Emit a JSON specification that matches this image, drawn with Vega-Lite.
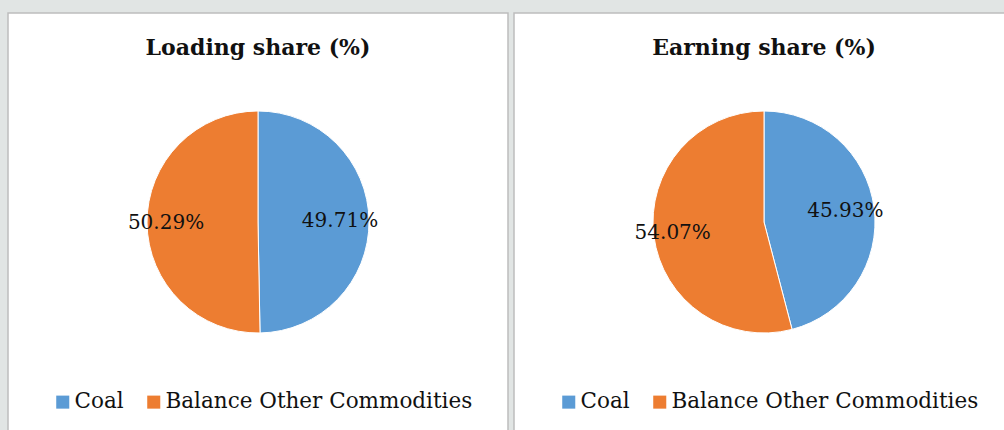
{
  "$schema": "https://vega.github.io/schema/vega-lite/v6.json",
  "background": "#e1e5e4",
  "padding": {"left": 7, "top": 12, "right": 0, "bottom": 0},
  "config": {
    "view": {"stroke": "#bdbdbd", "strokeWidth": 1.5, "fill": "white"},
    "font": "DejaVu Serif",
    "title": {"font": "DejaVu Serif", "fontSize": 22, "fontWeight": "bold", "color": "#111111", "anchor": "middle", "offset": -47, "baseline": "alphabetic"},
    "legend": {"labelFont": "DejaVu Serif", "labelFontSize": 21.5, "labelColor": "#111111", "labelLimit": 500, "symbolType": "square", "symbolSize": 170, "symbolStrokeWidth": 0, "labelOffset": 1, "columnPadding": 19, "orient": "none", "legendX": 44, "legendY": 378, "direction": "horizontal", "title": null}
  },
  "datasets": {
    "loading": [
      {"commodity": "Coal", "share": 49.71, "label": "49.71%", "ord": 1},
      {"commodity": "Balance Other Commodities", "share": 50.29, "label": "50.29%", "ord": 2}
    ],
    "earning": [
      {"commodity": "Coal", "share": 45.93, "label": "45.93%", "ord": 1},
      {"commodity": "Balance Other Commodities", "share": 54.07, "label": "54.07%", "ord": 2}
    ]
  },
  "spacing": 4,
  "resolve": {"legend": {"color": "independent"}},
  "hconcat": [
    {
      "title": "Loading share (%)",
      "width": 500,
      "height": 418,
      "view": {"stroke": "#bdbdbd", "strokeWidth": 1.5, "fill": "white"},
      "data": {"name": "loading"},
      "encoding": {
        "theta": {"field": "share", "type": "quantitative", "stack": true},
        "order": {"field": "ord", "type": "ordinal"},
        "color": {"field": "commodity", "type": "nominal", "scale": {"domain": ["Coal", "Balance Other Commodities"], "range": ["#5b9bd5", "#ed7d31"]}}
      },
      "layer": [
        {"mark": {"type": "arc", "outerRadius": 111, "stroke": "white", "strokeWidth": 1}},
        {"mark": {"type": "text", "radius": 87, "dx": -5, "fontSize": 20, "font": "DejaVu Serif"}, "encoding": {"text": {"field": "label"}, "color": {"value": "#111111"}}}
      ]
    },
    {
      "title": "Earning share (%)",
      "width": 500,
      "height": 418,
      "view": {"stroke": "#bdbdbd", "strokeWidth": 1.5, "fill": "white"},
      "data": {"name": "earning"},
      "encoding": {
        "theta": {"field": "share", "type": "quantitative", "stack": true},
        "order": {"field": "ord", "type": "ordinal"},
        "color": {"field": "commodity", "type": "nominal", "scale": {"domain": ["Coal", "Balance Other Commodities"], "range": ["#5b9bd5", "#ed7d31"]}}
      },
      "layer": [
        {"mark": {"type": "arc", "outerRadius": 111, "stroke": "white", "strokeWidth": 1}},
        {"mark": {"type": "text", "radius": 87, "dx": -5, "fontSize": 20, "font": "DejaVu Serif"}, "encoding": {"text": {"field": "label"}, "color": {"value": "#111111"}}}
      ]
    }
  ]
}
